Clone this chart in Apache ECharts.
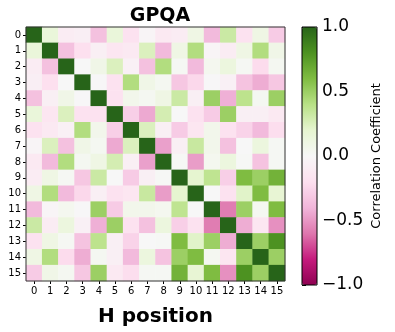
<!DOCTYPE html>
<html>
<head>
<meta charset="utf-8">
<script src="https://cdn.jsdelivr.net/npm/echarts@6/dist/echarts.min.js"></script>
<style>
  html, body { margin: 0; padding: 0; background: #fff; }
  #chart { width: 395px; height: 332px; }
</style>
</head>
<body>
<div id="chart"></div>
<script>
// 16 个 head 位置
const positions = ['0','1','2','3','4','5','6','7','8','9','10','11','12','13','14','15'];
// 相关系数矩阵 (按行, 从图上读出)
const corrRows = [
  [ 1.00, 0.15,-0.10,-0.08,-0.35, 0.15,-0.18,-0.03,-0.12,-0.10, 0.10,-0.38, 0.32,-0.18, 0.10,-0.30],
  [ 0.15, 1.00,-0.35,-0.20,-0.07,-0.15,-0.12, 0.25,-0.38, 0.10, 0.42,-0.03,-0.10, 0.10, 0.42, 0.08],
  [-0.10,-0.35, 1.00, 0.00, 0.08, 0.25,-0.06,-0.35, 0.42, 0.02,-0.38, 0.04, 0.13, 0.02,-0.22, 0.03],
  [-0.08,-0.20, 0.00, 1.00,-0.01,-0.18, 0.42, 0.08, 0.03,-0.32,-0.24,-0.01,-0.06,-0.34,-0.43,-0.32],
  [-0.35,-0.07, 0.08,-0.01, 1.00,-0.18, 0.06, 0.03, 0.10, 0.32,-0.07, 0.50,-0.42, 0.38, 0.03, 0.50],
  [ 0.15,-0.15, 0.25,-0.18,-0.18, 1.00,-0.28,-0.44, 0.28, 0.00,-0.18,-0.30, 0.50,-0.07,-0.07,-0.12],
  [-0.18,-0.12,-0.06, 0.42, 0.06,-0.28, 1.00, 0.25,-0.07,-0.30,-0.15, 0.06,-0.18,-0.26,-0.38,-0.21],
  [-0.03, 0.25,-0.35, 0.08, 0.03,-0.44, 0.25, 1.00,-0.47,-0.07, 0.33, 0.06,-0.35, 0.00, 0.13, 0.02],
  [-0.12,-0.38, 0.42, 0.03, 0.10, 0.28,-0.07,-0.47, 1.00, 0.01,-0.48, 0.04, 0.13, 0.01,-0.34, 0.02],
  [-0.10, 0.10, 0.02,-0.32, 0.32, 0.00,-0.30,-0.07, 0.01, 1.00, 0.20, 0.37,-0.28, 0.60, 0.50, 0.65],
  [ 0.10, 0.42,-0.38,-0.24,-0.07,-0.18,-0.15, 0.33,-0.48, 0.20, 1.00, 0.00,-0.18, 0.22, 0.60, 0.18],
  [-0.38,-0.03, 0.04,-0.01, 0.50,-0.30, 0.06, 0.06, 0.04, 0.37, 0.00, 1.00,-0.58, 0.50, 0.03, 0.60],
  [ 0.32,-0.10, 0.13,-0.06,-0.42, 0.50,-0.18,-0.35, 0.13,-0.28,-0.18,-0.58, 1.00,-0.43,-0.15,-0.52],
  [-0.18, 0.10, 0.02,-0.34, 0.38,-0.07,-0.26, 0.00, 0.01, 0.60, 0.22, 0.50,-0.43, 1.00, 0.50, 0.80],
  [ 0.10, 0.42,-0.22,-0.43, 0.03,-0.07,-0.38, 0.13,-0.34, 0.50, 0.60, 0.03,-0.15, 0.50, 1.00, 0.50],
  [-0.30, 0.08, 0.03,-0.32, 0.50,-0.12,-0.21, 0.02, 0.02, 0.65, 0.18, 0.60,-0.52, 0.80, 0.50, 1.00]
];
// colorbar 刻度
const cbarTicks = [-1.0, -0.5, 0.0, 0.5, 1.0];
// PiYG 色带
const piyg = ['#8e0152','#c51b7d','#de77ae','#f1b6da','#fde0ef','#f7f7f7','#e6f5d0','#b8e186','#7fbc41','#4d9221','#276419'];

const heatData = [];
corrRows.forEach(function (row, i) {
  row.forEach(function (v, j) {
    heatData.push([j, i, v]);
  });
});

const font = 'DejaVu Sans';
const fmtTick = function (v) {
  return (v < 0 ? '\u2212' : '') + Math.abs(v).toFixed(1);
};

const myChart = echarts.init(document.getElementById('chart'));
const option = {
  animation: false,
  backgroundColor: '#fff',
  textStyle: { fontFamily: font },
  title: {
    text: 'GPQA',
    left: 155, top: 2, textAlign: 'center',
    textStyle: { fontFamily: font, fontWeight: 'bold', fontSize: 19, color: '#000' }
  },
  grid: [
    { left: 26, top: 27, width: 259, height: 259, show: true, borderColor: '#333', borderWidth: 1, z: 5, backgroundColor: 'transparent' },
    { left: 302, top: 27, width: 15, height: 258, show: true, borderColor: '#000', borderWidth: 1, z: 10, backgroundColor: 'transparent' }
  ],
  xAxis: [
    {
      type: 'category', data: positions, gridIndex: 0, position: 'bottom',
      name: 'H position', nameLocation: 'middle', nameGap: 26,
      nameTextStyle: { fontFamily: font, fontWeight: 'bold', fontSize: 20, color: '#000' },
      axisLine: { show: false },
      axisTick: { show: true, alignWithLabel: true, length: 3, lineStyle: { color: '#000' } },
      axisLabel: { fontFamily: font, fontSize: 10, color: '#000', margin: 5, interval: 0 },
      splitLine: { show: false }
    },
    { type: 'value', gridIndex: 1, show: false, min: 0, max: 1 }
  ],
  yAxis: [
    {
      type: 'category', data: positions, gridIndex: 0, inverse: true,
      axisLine: { show: false },
      axisTick: { show: true, alignWithLabel: true, length: 3, lineStyle: { color: '#000' } },
      axisLabel: { fontFamily: font, fontSize: 10, color: '#000', margin: 5, interval: 0 },
      splitLine: { show: false }
    },
    {
      type: 'value', gridIndex: 1, position: 'right', min: cbarTicks[0], max: cbarTicks[cbarTicks.length - 1], interval: 0.5,
      name: 'Correlation Coefficient', nameLocation: 'middle', nameRotate: 90, nameGap: 53,
      nameTextStyle: { fontFamily: font, fontSize: 13, color: '#000' },
      axisLine: { show: false },
      axisTick: { show: true, length: 4, lineStyle: { color: '#000' } },
      axisLabel: { fontFamily: font, fontSize: 17, color: '#000', margin: 5, formatter: fmtTick },
      splitLine: { show: false }
    }
  ],
  visualMap: {
    type: 'continuous', min: -1, max: 1, calculable: false,
    seriesIndex: 0, orient: 'vertical', padding: 0,
    left: 302, top: 27, itemWidth: 15, itemHeight: 258,
    text: null, showLabel: false, hoverLink: false,
    inRange: { color: piyg }
  },
  series: [
    {
      type: 'heatmap', xAxisIndex: 0, yAxisIndex: 0, data: heatData,
      itemStyle: { borderWidth: 0 },
      emphasis: { disabled: true }
    }
  ]
};
myChart.setOption(option);
</script>
</body>
</html>
